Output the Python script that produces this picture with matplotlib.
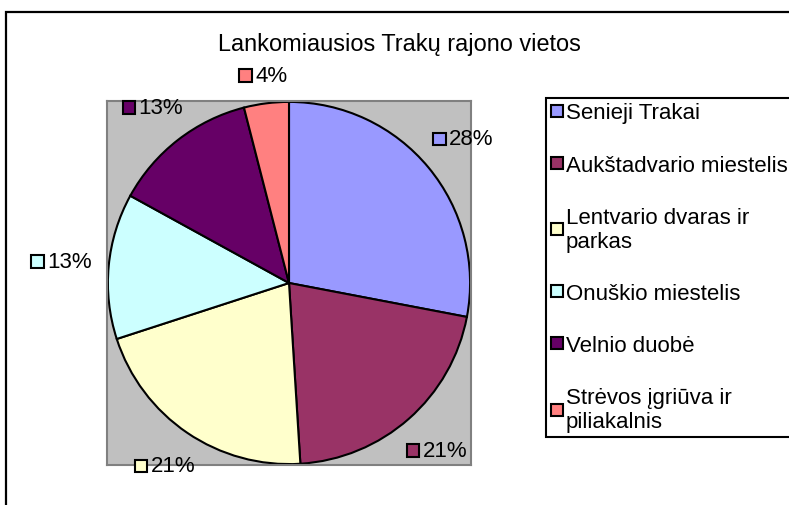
import matplotlib
matplotlib.use('Agg')
import numpy as np
import matplotlib.pyplot as plt
from matplotlib.lines import Line2D
from matplotlib.patches import Rectangle
from matplotlib.offsetbox import AnnotationBbox, DrawingArea, HPacker, TextArea

# duomenys
titulas = 'Lankomiausios Trakų rajono vietos'
vietos = [
    'Senieji Trakai',
    'Aukštadvario miestelis',
    'Lentvario dvaras ir\nparkas',
    'Onuškio miestelis',
    'Velnio duobė',
    'Strėvos įgriūva ir\npiliakalnis',
]
procentai = [28, 21, 21, 13, 13, 4]
spalvos = ['#9999FF', '#993366', '#FFFFCC', '#CCFFFF', '#660066', '#FF8080']

plt.rcParams['font.family'] = ['Liberation Sans', 'DejaVu Sans']

W, H = 789, 506
fig = plt.figure(figsize=(W / 100, H / 100), dpi=100)

# remelis aplink visa diagrama (iseina uz paveikslo ribu)
fig.add_artist(Rectangle((6 / W, -0.2), 1.3, 1 - 13 / H + 0.2, transform=fig.transFigure,
                         fill=False, edgecolor='black', linewidth=1.6, clip_on=False))

fig.text(399 / W, 1 - 45 / H, titulas, ha='center', va='center', fontsize=16.9)

ax = fig.add_axes([107 / W, 1 - 466 / H, 364 / W, 364 / H])
wedges, _ = ax.pie(procentai, colors=spalvos, startangle=90, counterclock=False, radius=1,
                   wedgeprops=dict(edgecolor='black', linewidth=1.5))
ax.set_frame_on(True)
ax.set_facecolor('#C0C0C0')
for s in ax.spines.values():
    s.set_edgecolor('#808080')
    s.set_linewidth(1.5)
ax.set_xlim(-1.005, 1.005)
ax.set_ylim(-1.005, 1.005)
ax.set_xticks([])
ax.set_yticks([])

# procentu etiketes su spalvotu kvadratuku; atstumas nuo krasto pagal etiketes dydi
px = 364 / 2.01  # pikseliu viename duomenu vienete
for pleistas, p, c in zip(wedges, procentai, spalvos):
    kampas = np.deg2rad((pleistas.theta1 + pleistas.theta2) / 2)
    cx, cy = np.cos(kampas), np.sin(kampas)
    issikisimas = abs(cx) * 31 + abs(cy) * 8
    r = 1 + (16 + issikisimas) / px
    kvadratas = DrawingArea(10, 10)
    kvadratas.add_artist(Rectangle((0.5, 0.5), 9, 9, facecolor=c, edgecolor='black', linewidth=1.5))
    tekstas = TextArea(f'{p}%', textprops=dict(fontsize=16))
    dezute = HPacker(children=[kvadratas, tekstas], align='center', pad=0, sep=2)
    ab = AnnotationBbox(dezute, (r * cx, r * cy), xycoords='data', frameon=False,
                        box_alignment=(0.5, 0.5), annotation_clip=False)
    ax.add_artist(ab)

rankenos = [Line2D([], [], linestyle='none', marker='s', markersize=9, markerfacecolor=c,
                   markeredgecolor='black', markeredgewidth=1.5) for c in spalvos]
leg = fig.legend(rankenos, vietos, loc='upper left', bbox_to_anchor=(546 / W, 1 - 99 / H),
                 bbox_transform=fig.transFigure, frameon=True, fancybox=False, edgecolor='black',
                 fontsize=16, handlelength=0.55, handletextpad=0.15, labelspacing=1.4,
                 borderpad=0.2, borderaxespad=0, framealpha=1)
leg.get_frame().set_linewidth(1.5)

fig.savefig('out.png', dpi=100, facecolor='white')
